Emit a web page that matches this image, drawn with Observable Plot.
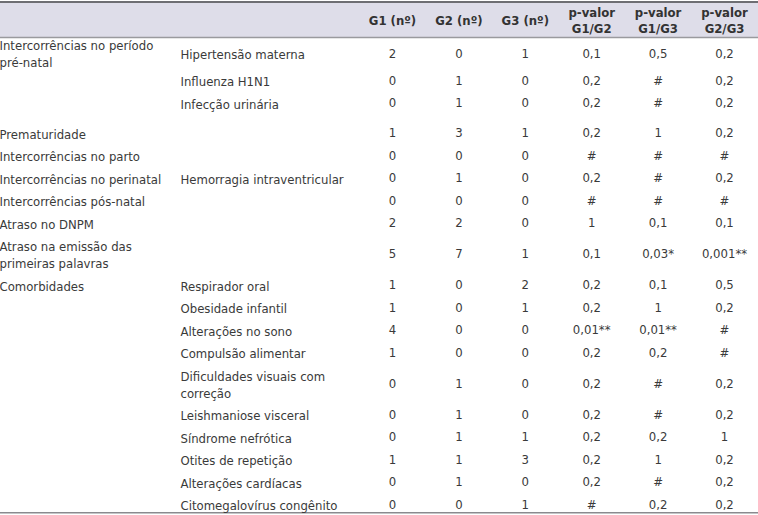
<!DOCTYPE html>
<html><head><meta charset="utf-8">
<script src="https://cdn.jsdelivr.net/npm/d3@7"></script>
<script src="https://cdn.jsdelivr.net/npm/@observablehq/plot@0.6"></script>
<style>html,body{margin:0;padding:0;background:#fff}svg{display:block}</style>
</head><body><div id="chart"></div>
<script>
// ---- data ----
const categories = [
  "Intercorrências no período\npré-natal", "", "",
  "Prematuridade",
  "Intercorrências no parto",
  "Intercorrências no perinatal",
  "Intercorrências pós-natal",
  "Atraso no DNPM",
  "Atraso na emissão das\nprimeiras palavras",
  "Comorbidades", "", "", "", "", "", "", "", "", ""
];
const subcategories = [
  "Hipertensão materna", "Influenza H1N1", "Infecção urinária",
  "", "", "Hemorragia intraventricular", "", "", "",
  "Respirador oral", "Obesidade infantil", "Alterações no sono", "Compulsão alimentar",
  "Dificuldades visuais com\ncorreção", "Leishmaniose visceral", "Síndrome nefrótica",
  "Otites de repetição", "Alterações cardíacas", "Citomegalovírus congênito"
];
const g1 = [2, 0, 0, 1, 0, 0, 0, 2, 5, 1, 1, 4, 1, 0, 0, 0, 1, 0, 0];
const g2 = [0, 1, 1, 3, 0, 1, 0, 2, 7, 0, 0, 0, 0, 1, 1, 1, 1, 1, 0];
const g3 = [1, 0, 0, 1, 0, 0, 0, 0, 1, 2, 1, 0, 0, 0, 0, 1, 3, 0, 1];
const pG1G2 = ["0,1","0,2","0,2","0,2","#","0,2","#","1","0,1","0,2","0,2","0,01**","0,2","0,2","0,2","0,2","0,2","0,2","#"];
const pG1G3 = ["0,5","#","#","1","#","#","#","0,1","0,03*","0,1","1","0,01**","0,2","#","#","0,2","1","#","0,2"];
const pG2G3 = ["0,2","0,2","0,2","0,2","#","0,2","#","0,1","0,001**","0,5","0,2","#","#","0,2","0,2","1","0,2","0,2","0,2"];
const columnHeaders = ["G1 (nº)", "G2 (nº)", "G3 (nº)", "p-valor\nG1/G2", "p-valor\nG1/G3", "p-valor\nG2/G3"];

// ---- layout ----
const W = 758, H = 515;
const FONT = '"Liberation Sans Narrow","DejaVu Sans Condensed",sans-serif';
const headerTop = 2, headerBottom = 37, base = 22.5, lineStep = 17;
const col1X = -1, col2X = 180;
const numX = d3.scalePoint().domain(d3.range(columnHeaders.length)).range([392, 724]);
const nLines = s => s ? s.split("\n").length : 1;
const n = categories.length;
const rowY = [];
let yCur = headerBottom, pendingTail = 0;
for (let i = 0; i < n; i++) {
  if (categories[i] && pendingTail) { yCur += pendingTail; pendingTail = 0; }
  const l1 = nLines(categories[i]), l2 = nLines(subcategories[i]);
  let h;
  const groupContinues = i + 1 < n && !categories[i + 1] && subcategories[i + 1];
  if (l1 > 1 && subcategories[i] && groupContinues) {
    h = base + lineStep * (l1 - 1) / 2 + 1;
    pendingTail = base + lineStep * (l1 - 1) - h;
  } else {
    h = base + lineStep * (Math.max(l1, l2) - 1);
  }
  rowY.push(yCur + h / 2);
  yCur += h;
}
const bottomRule = rowY[n - 1] + 8;

const values = [g1, g2, g3, pG1G2, pG1G3, pG2G3];
const textCells = [];
for (let i = 0; i < n; i++) {
  if (categories[i]) textCells.push({x: col1X, y: rowY[i], t: categories[i]});
  if (subcategories[i]) textCells.push({x: col2X, y: rowY[i], t: subcategories[i]});
}
const numCells = [];
values.forEach((col, j) => col.forEach((v, i) => numCells.push({x: numX(j), y: rowY[i], t: String(v)})));
const headCells = columnHeaders.map((t, j) => ({x: numX(j), y: (headerTop + headerBottom) / 2, t}));

const chart = Plot.plot({
  width: W, height: H, margin: 0,
  x: {type: "identity", axis: null},
  y: {type: "identity", axis: null},
  style: {fontFamily: FONT, background: "#fff"},
  marks: [
    Plot.rect([0], {x1: 0, x2: W, y1: headerTop, y2: headerBottom, fill: "#dedde9"}),
    Plot.ruleY([headerTop - 0.5], {stroke: "#6e6e73", strokeWidth: 2}),
    Plot.ruleY([headerBottom], {stroke: "#9a9a9e", strokeWidth: 1.5}),
    Plot.ruleY([bottomRule], {stroke: "#8a8a8e", strokeWidth: 1.5}),
    Plot.text(headCells, {x: "x", y: "y", text: "t", textAnchor: "middle", fontSize: 13, fontWeight: "bold", fill: "#333", lineHeight: 1.2, fontFamily: FONT}),
    Plot.text(textCells, {x: "x", y: "y", text: "t", textAnchor: "start", fontSize: 13, fill: "#3a3a3a", lineHeight: 1.3, fontFamily: FONT}),
    Plot.text(numCells, {x: "x", y: "y", text: "t", textAnchor: "middle", fontSize: 13, fill: "#3a3a3a", fontFamily: FONT})
  ]
});
document.getElementById("chart").appendChild(chart);
</script></body></html>
